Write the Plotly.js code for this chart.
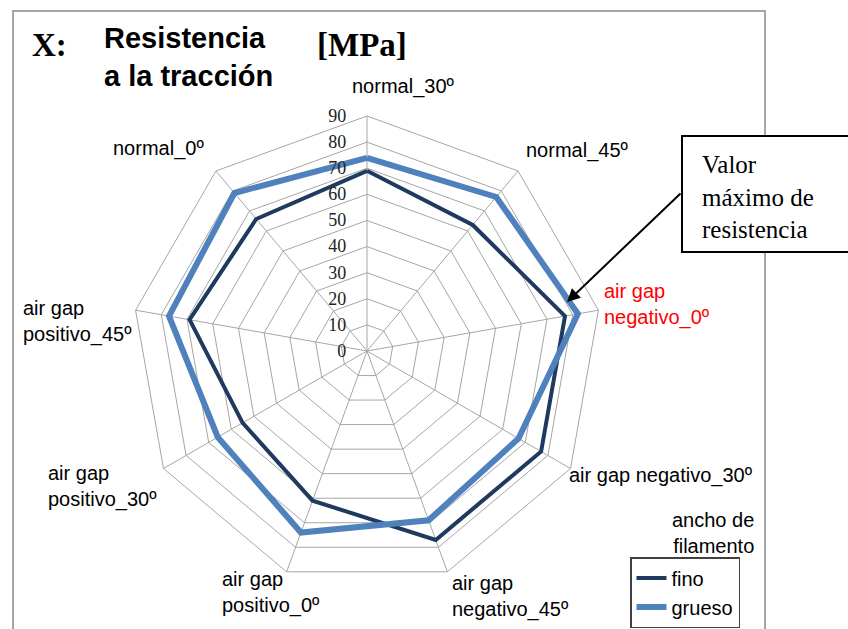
<!DOCTYPE html>
<html>
<head>
<meta charset="utf-8">
<script src="https://cdn.plot.ly/plotly-3.0.1.min.js"></script>
<style>
  html, body { margin: 0; padding: 0; background: #fff; }
  #chart { width: 848px; height: 629px; }
</style>
</head>
<body>
<div id="chart"></div>
<script>
// Categories, clockwise from the top
const categories = [
  "normal_30º",
  "normal_45º",
  "air gap negativo_0º",
  "air gap negativo_30º",
  "air gap negativo_45º",
  "air gap positivo_0º",
  "air gap positivo_30º",
  "air gap positivo_45º",
  "normal_0º"
];
// Tensile strength [MPa]
const fino   = [69, 63, 77, 77, 77, 61, 55, 69, 66];
const grueso = [74, 77, 82, 67, 69, 74, 66, 77, 79];
const radialTicks = [0, 10, 20, 30, 40, 50, 60, 70, 80, 90];

const W = 848, H = 629;
const px = x => x / W;
const py = y => 1 - y / H;

const closeLoop = a => a.concat([a[0]]);

const traces = [
  {
    type: "scatterpolar", mode: "lines", name: "fino",
    r: closeLoop(fino), theta: closeLoop(categories),
    line: { color: "#1F3A5F", width: 4 }
  },
  {
    type: "scatterpolar", mode: "lines", name: "grueso",
    r: closeLoop(grueso), theta: closeLoop(categories),
    line: { color: "#4F81BD", width: 6 }
  }
];

const labelFont = { family: "Liberation Sans, Arial, sans-serif", size: 20, color: "#000" };
function lab(text, x, y, xanchor, extra) {
  return Object.assign({
    text: text, x: px(x), y: py(y), xref: "paper", yref: "paper",
    xanchor: xanchor, yanchor: "middle", showarrow: false, align: "left",
    font: labelFont
  }, extra || {});
}

const R = 235, cx = 367, cy = 351;

const layout = {
  width: W, height: H,
  margin: { l: 0, r: 0, t: 0, b: 0 },
  paper_bgcolor: "#fff",
  showlegend: true,
  legend: {
    x: px(630), y: py(557), xanchor: "left", yanchor: "top",
    bordercolor: "#404040", borderwidth: 1.5, bgcolor: "#fff",
    entrywidth: 80,
    font: { family: "Liberation Sans, Arial, sans-serif", size: 20, color: "#000" }
  },
  polar: {
    domain: { x: [px(cx - R), px(cx + R)], y: [py(cy + R), py(cy - R)] },
    bgcolor: "#fff",
    gridshape: "linear",
    angularaxis: {
      type: "category", categoryarray: categories,
      rotation: 90, direction: "clockwise",
      showticklabels: false, ticks: "",
      showline: true, linecolor: "#A6A6A6", linewidth: 1,
      gridcolor: "#A6A6A6", gridwidth: 1
    },
    radialaxis: {
      range: [0, 90], tickvals: radialTicks, ticktext: radialTicks.map(String),
      angle: 90, side: "counterclockwise", tickangle: 90,
      showline: false, ticks: "outside", ticklen: 14, tickcolor: "rgba(0,0,0,0)",
      gridcolor: "#A6A6A6", gridwidth: 1,
      tickfont: { family: "Liberation Serif, Times New Roman, serif", size: 18, color: "#222" }
    }
  },
  shapes: [
    { type: "rect", xref: "paper", yref: "paper",
      x0: px(13), x1: px(765), y0: -0.05, y1: py(11),
      line: { color: "#A6A6A6", width: 2 }, fillcolor: "rgba(0,0,0,0)" },
    { type: "rect", xref: "paper", yref: "paper",
      x0: px(682), x1: 1.02, y0: py(252), y1: py(136),
      line: { color: "#000", width: 2 }, fillcolor: "#fff" }
  ],
  annotations: [
    lab("X:", 30, 45, "left", { font: { family: "Liberation Serif, Times New Roman, serif", size: 33, color: "#000", weight: "bold" } }),
    lab("<b>Resistencia<br>a la tracción</b>", 102, 57, "left", { font: { family: "Liberation Sans, Arial, sans-serif", size: 29, color: "#000" } }),
    lab("<b>[MPa]</b>", 315, 45, "left", { font: { family: "Liberation Serif, Times New Roman, serif", size: 33, color: "#000" } }),
    lab("Valor<br>máximo de<br>resistencia", 700, 197, "left", { font: { family: "Liberation Serif, Times New Roman, serif", size: 25, color: "#000" } }),
    { text: "", x: px(567), y: py(302), xref: "paper", yref: "paper",
      showarrow: true, ax: 115, ay: -110, axref: "pixel", ayref: "pixel",
      arrowhead: 2, arrowsize: 1.3, arrowwidth: 2, arrowcolor: "#000", standoff: 0 },
    lab("normal_30º", 403, 86, "center"),
    lab("normal_45º", 524, 151, "left"),
    lab("air gap<br>negativo_0º", 602, 304, "left", { font: { family: "Liberation Sans, Arial, sans-serif", size: 20, color: "#FF0000" } }),
    lab("air gap negativo_30º", 567, 475, "left"),
    lab("air gap<br>negativo_45º", 450, 596, "left"),
    lab("air gap<br>positivo_0º", 220, 592, "left"),
    lab("air gap<br>positivo_30º", 46, 486, "left"),
    lab("air gap<br>positivo_45º", 21, 321, "left"),
    lab("normal_0º", 111, 149, "left"),
    lab("ancho de<br>filamento", 756, 533, "right", { align: "right" })
  ]
};

Plotly.newPlot("chart", traces, layout, { displayModeBar: false, staticPlot: true });
</script>
</body>
</html>
